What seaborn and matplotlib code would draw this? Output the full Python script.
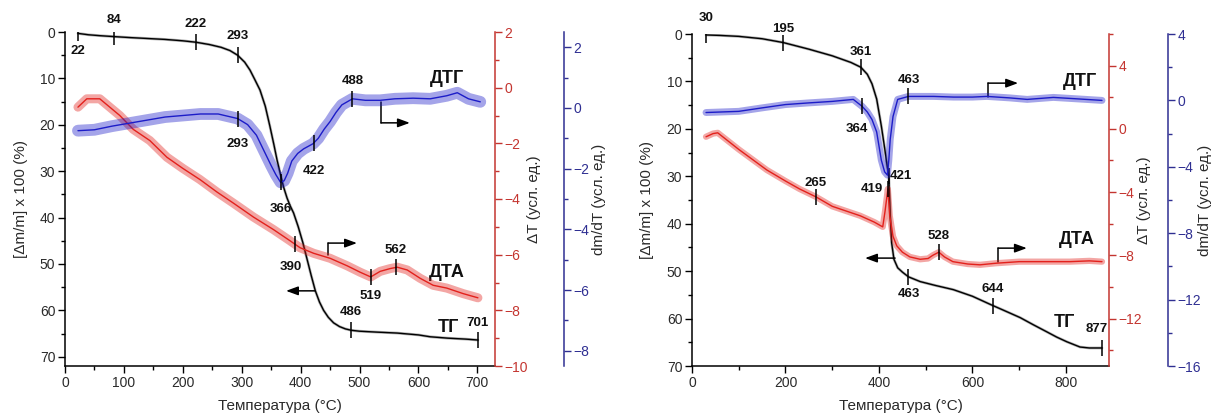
import numpy as np
import matplotlib
matplotlib.use("Agg")
import matplotlib.pyplot as plt
from matplotlib.ticker import MultipleLocator
import seaborn as sns

# ---------------- Sample 1 (heated to ~700 °C) ----------------
temp_tg_1 = [22, 40, 60, 84, 110, 140, 170, 200, 222, 245, 265, 280, 293, 305, 314,
             322, 331, 340, 348, 355, 360, 366, 371, 377, 382, 388, 396, 404, 411,
             418, 425, 432, 439, 447, 456, 466, 476, 486, 500, 530, 564, 600, 620,
             650, 680, 701]
mass_tg_1 = [0.3, 0.6, 0.8, 1.0, 1.2, 1.4, 1.6, 1.9, 2.2, 2.7, 3.3, 4.0, 5.0, 6.5, 8.2,
             10.2, 12.5, 16.0, 20.4, 24.5, 27.6, 30.8, 33.4, 35.8, 37.4, 39.0, 42.0,
             45.5, 49.0, 52.5, 55.8, 58.2, 60.0, 61.5, 62.7, 63.5, 64.0, 64.3, 64.5,
             64.7, 64.9, 65.3, 65.7, 66.0, 66.2, 66.4]

temp_dta_1 = [22, 37, 59, 76, 93, 116, 144, 173, 200, 229, 258, 286, 320, 354, 382,
              399, 422, 450, 479, 501, 519, 535, 552, 564, 581, 603, 625, 648, 676, 701]
dt_dta_1 = [-0.7, -0.4, -0.4, -0.7, -1.0, -1.5, -1.9, -2.5, -2.9, -3.3, -3.75, -4.15,
            -4.65, -5.1, -5.5, -5.75, -5.95, -6.13, -6.4, -6.63, -6.8, -6.6, -6.5,
            -6.45, -6.55, -6.85, -7.1, -7.2, -7.4, -7.55]

temp_dtg_1 = [22, 50, 80, 110, 140, 170, 200, 230, 260, 293, 310, 325, 340, 350, 358,
              366, 372, 378, 385, 395, 405, 421, 430, 440, 450, 460, 470, 488, 510,
              535, 560, 591, 620, 648, 666, 685, 705]
dmdt_dtg_1 = [-0.75, -0.72, -0.6, -0.5, -0.4, -0.3, -0.25, -0.2, -0.2, -0.35, -0.55,
              -0.9, -1.5, -1.9, -2.2, -2.45, -2.4, -2.15, -1.75, -1.5, -1.35, -1.18,
              -1.0, -0.7, -0.45, -0.15, 0.1, 0.3, 0.25, 0.25, 0.3, 0.32, 0.3, 0.4,
              0.5, 0.3, 0.2]

tg_marks_1 = [22, 84, 222, 293, 486, 701]
dtg_marks_1 = [293, 366, 422, 488]
dta_marks_1 = [390, 519, 562]

# ---------------- Sample 2 (heated to ~880 °C) ----------------
temp_tg_2 = [30, 60, 100, 150, 195, 250, 300, 340, 361, 375, 385, 395, 405, 412, 417,
             421, 424, 427, 432, 440, 450, 463, 488, 520, 559, 600, 640, 670, 702,
             730, 759, 780, 802, 830, 850, 877]
mass_tg_2 = [0.2, 0.3, 0.5, 1.0, 1.8, 3.2, 4.6, 6.0, 7.0, 8.5, 10.5, 13.7, 19.4, 24.0,
             27.5, 30.0, 38.0, 44.0, 47.5, 49.3, 50.2, 51.2, 52.2, 53.0, 53.9, 55.3,
             57.1, 58.4, 59.8, 61.3, 62.8, 63.9, 64.9, 66.0, 66.2, 66.2]

temp_dta_2 = [30, 45, 55, 70, 100, 130, 160, 200, 230, 265, 300, 330, 360, 390, 408,
              413, 419, 423, 430, 438, 450, 466, 488, 505, 515, 528, 540, 558, 590,
              616, 650, 700, 750, 808, 850, 877]
dt_dta_2 = [-0.5, -0.3, -0.25, -0.6, -1.3, -1.95, -2.6, -3.3, -3.8, -4.3, -4.9, -5.2,
            -5.5, -5.9, -6.2, -5.2, -3.8, -5.5, -6.8, -7.4, -7.8, -8.1, -8.25, -8.2,
            -8.0, -7.8, -8.1, -8.4, -8.55, -8.6, -8.5, -8.4, -8.4, -8.4, -8.35, -8.4]

temp_dtg_2 = [30, 60, 100, 150, 200, 250, 300, 345, 364, 375, 385, 395, 405, 412, 418,
              421, 424, 430, 440, 463, 494, 517, 560, 600, 631, 680, 717, 773, 820, 877]
dmdt_dtg_2 = [-0.73, -0.7, -0.66, -0.45, -0.25, -0.15, -0.06, 0.06, -0.36, -0.7, -1.15,
              -1.9, -3.6, -4.3, -4.5, -3.6, -2.35, -0.97, 0.06, 0.24, 0.24, 0.24, 0.2,
              0.2, 0.24, 0.15, 0.06, 0.18, 0.1, 0.0]

tg_marks_2 = [30, 195, 361, 421, 463, 644, 877]
dtg_marks_2 = [364, 463]
dta_marks_2 = [265, 419, 528]

# ---------------- styling ----------------
TG_COLOR = "black"
DTA_COLOR = "#e3211c"
DTA_AXIS = "#c43530"
DTG_COLOR = "#1c1cc8"
DTG_AXIS = "#2f2f92"
TICK_TEXT = "#2a2a2a"

sns.set_theme(style="ticks")
plt.rcParams["font.family"] = ["Liberation Sans", "DejaVu Sans"]
plt.rcParams["axes.linewidth"] = 1.0

W, H = 1215, 418
fig = plt.figure(figsize=(W / 100, H / 100), dpi=100)


def rect(x0, y0, x1, y1):
    return [x0 / W, 1 - y1 / H, (x1 - x0) / W, (y1 - y0) / H]


def style_axis(ax, side, color, major, minor, lim):
    ax.set_ylim(*lim)
    ax.yaxis.set_major_locator(MultipleLocator(major))
    ax.yaxis.set_minor_locator(MultipleLocator(minor))
    ax.tick_params(axis="y", which="major", direction="out", length=5, width=1,
                   color=color, labelcolor=color, labelsize=10, pad=2)
    ax.tick_params(axis="y", which="minor", direction="out", length=3, width=1,
                   color=color)
    for s in ax.spines.values():
        s.set_visible(False)
    ax.spines[side].set_visible(True)
    ax.spines[side].set_color(color)
    ax.spines[side].set_linewidth(1.1)


def curve(ax, t, v, color, band, lw=1.0, band_alpha=0.4):
    # wide translucent band under a thin core line gives the noisy-trace look
    sns.lineplot(x=t, y=v, ax=ax, color=color, lw=band, alpha=band_alpha, sort=False,
                 estimator=None, legend=False)
    sns.lineplot(x=t, y=v, ax=ax, color=color, lw=lw, sort=False, estimator=None,
                 legend=False)


def marks(ax, t, v, temps, offsets, color="black"):
    for temp in temps:
        y = float(np.interp(temp, t, v))
        ax.plot([temp], [y], marker="|", ms=11, mew=1.1, color=color, zorder=6)
        dx, dy = offsets[temp]
        ax.annotate(str(temp), xy=(temp, y), xytext=(dx, dy),
                    textcoords="offset pixels", ha="center", va="center",
                    fontsize=9.5, fontweight="bold", color="#111111", zorder=7)


def elbow_arrow(ax, x, y0, y1, x1):
    ax.plot([x, x], [y0, y1], transform=ax.transAxes, color="black", lw=1.1,
            clip_on=False, zorder=6)
    ax.annotate("", xy=(x1, y1), xytext=(x, y1), xycoords="axes fraction",
                textcoords="axes fraction",
                arrowprops=dict(arrowstyle="-|>,head_length=0.6,head_width=0.22",
                                color="black", lw=1.1, shrinkA=0, shrinkB=0))


def flat_arrow(ax, x0, x1, y):
    ax.annotate("", xy=(x1, y), xytext=(x0, y), xycoords="axes fraction",
                textcoords="axes fraction",
                arrowprops=dict(arrowstyle="-|>,head_length=0.6,head_width=0.22",
                                color="black", lw=1.1, shrinkA=0, shrinkB=0))


def panel(box, xlim, xmaj, xmin, tg_lim, dta_lim, dta_maj, dta_min,
          dtg_lim, dtg_maj, dtg_min, blue_pos, lab_pos, data, cfg):
    (tt, tm, at, av, gt, gv) = data
    ax = fig.add_axes(rect(*box))
    ax_dta = ax.twinx()
    ax_dtg = ax.twinx()

    # main TG axis
    ax.set_xlim(*xlim)
    ax.set_ylim(*tg_lim)
    ax.xaxis.set_major_locator(MultipleLocator(xmaj))
    ax.xaxis.set_minor_locator(MultipleLocator(xmin))
    ax.yaxis.set_major_locator(MultipleLocator(10))
    ax.yaxis.set_minor_locator(MultipleLocator(5))
    ax.tick_params(which="major", direction="out", length=5, width=1,
                   color="black", labelcolor=TICK_TEXT, labelsize=10, pad=2)
    ax.tick_params(which="minor", direction="out", length=3, width=1, color="black")
    ax.spines["top"].set_visible(False)
    ax.spines["right"].set_visible(False)
    for s in ("left", "bottom"):
        ax.spines[s].set_color("black")
        ax.spines[s].set_linewidth(1.1)
    ax.set_xlabel("Температура (°C)", fontsize=11, color=TICK_TEXT, labelpad=7)
    ax.set_ylabel("[Δm/m] x 100 (%)", fontsize=11, color=TICK_TEXT)
    ax.yaxis.set_label_coords(lab_pos[0], 0.5)

    # DTA axis (red)
    style_axis(ax_dta, "right", DTA_AXIS, dta_maj, dta_min, dta_lim)
    ax_dta.set_ylabel("ΔT (усл. ед.)", fontsize=11, color=TICK_TEXT)
    ax_dta.yaxis.set_label_coords(lab_pos[1], 0.5)

    # DTG axis (blue), spine shifted outward
    style_axis(ax_dtg, "right", DTG_AXIS, dtg_maj, dtg_min, dtg_lim)
    ax_dtg.spines["right"].set_position(("axes", blue_pos))
    ax_dtg.set_ylabel("dm/dT (усл. ед.)", fontsize=11, color=TICK_TEXT)
    ax_dtg.yaxis.set_label_coords(lab_pos[2], 0.5)

    for a in (ax, ax_dta, ax_dtg):
        a.grid(False)
        a.patch.set_visible(False)

    curve(ax_dta, at, av, DTA_COLOR, band=cfg["dta_band"])
    curve(ax_dtg, gt, gv, DTG_COLOR, band=cfg["dtg_band"])
    curve(ax, tt, tm, TG_COLOR, band=2.0, lw=1.0, band_alpha=0.3)

    marks(ax, tt, tm, cfg["tg_marks"], cfg["tg_off"])
    marks(ax_dtg, gt, gv, cfg["dtg_marks"], cfg["dtg_off"])
    marks(ax_dta, at, av, cfg["dta_marks"], cfg["dta_off"])

    for name, (fx, fy) in cfg["names"].items():
        ax.text(fx, fy, name, transform=ax.transAxes, ha="center", va="center",
                fontsize=13, fontweight="bold", color="#111111")

    elbow_arrow(ax, *cfg["dtg_arrow"])
    elbow_arrow(ax, *cfg["dta_arrow"])
    flat_arrow(ax, *cfg["tg_arrow"])
    return ax


panel((65, 32, 495, 366), (0, 730), 100, 50, (72, 0),
      (-10, 2), 2, 1, (-8.5, 2.5), 2, 1, 1.16, (-0.085, 1.075, 1.225),
      (temp_tg_1, mass_tg_1, temp_dta_1, dt_dta_1, temp_dtg_1, dmdt_dtg_1),
      dict(dta_band=6.5, dtg_band=8.5,
           tg_marks=tg_marks_1, dtg_marks=dtg_marks_1, dta_marks=dta_marks_1,
           tg_off={22: (0, -18), 84: (0, 17), 222: (0, 18), 293: (0, 19),
                   486: (0, 18), 701: (0, 17)},
           dtg_off={293: (0, -25), 366: (0, -27), 422: (0, -28), 488: (0, 18)},
           dta_off={390: (-4, -23), 519: (0, -19), 562: (0, 17)},
           names={"ДТГ": (0.888, 0.862), "ДТА": (0.888, 0.281), "ТГ": (0.891, 0.114)},
           dtg_arrow=(0.735, 0.790, 0.728, 0.802),
           dta_arrow=(0.612, 0.332, 0.368, 0.679),
           tg_arrow=(0.581, 0.514, 0.225)))

panel((692, 34, 1109, 366), (0, 892), 200, 100, (70, 0),
      (-15, 6), 4, 2, (-16, 4), 4, 2, 1.141, (-0.09, 1.067, 1.213),
      (temp_tg_2, mass_tg_2, temp_dta_2, dt_dta_2, temp_dtg_2, dmdt_dtg_2),
      dict(dta_band=4.5, dtg_band=5,
           tg_marks=tg_marks_2, dtg_marks=dtg_marks_2, dta_marks=dta_marks_2,
           tg_off={30: (0, 17), 195: (0, 14), 361: (0, 15), 421: (12, 0),
                   463: (0, -17), 644: (0, 17), 877: (-5, 19)},
           dtg_off={364: (-5, -23), 463: (0, 16)},
           dta_off={265: (0, 14), 419: (-16, 0), 528: (0, 16)},
           names={"ДТГ": (0.930, 0.858), "ДТА": (0.923, 0.380), "ТГ": (0.894, 0.130)},
           dtg_arrow=(0.710, 0.810, 0.852, 0.782),
           dta_arrow=(0.734, 0.313, 0.355, 0.803),
           tg_arrow=(0.487, 0.415, 0.325)))

fig.savefig("out.png", dpi=100, facecolor="white")
